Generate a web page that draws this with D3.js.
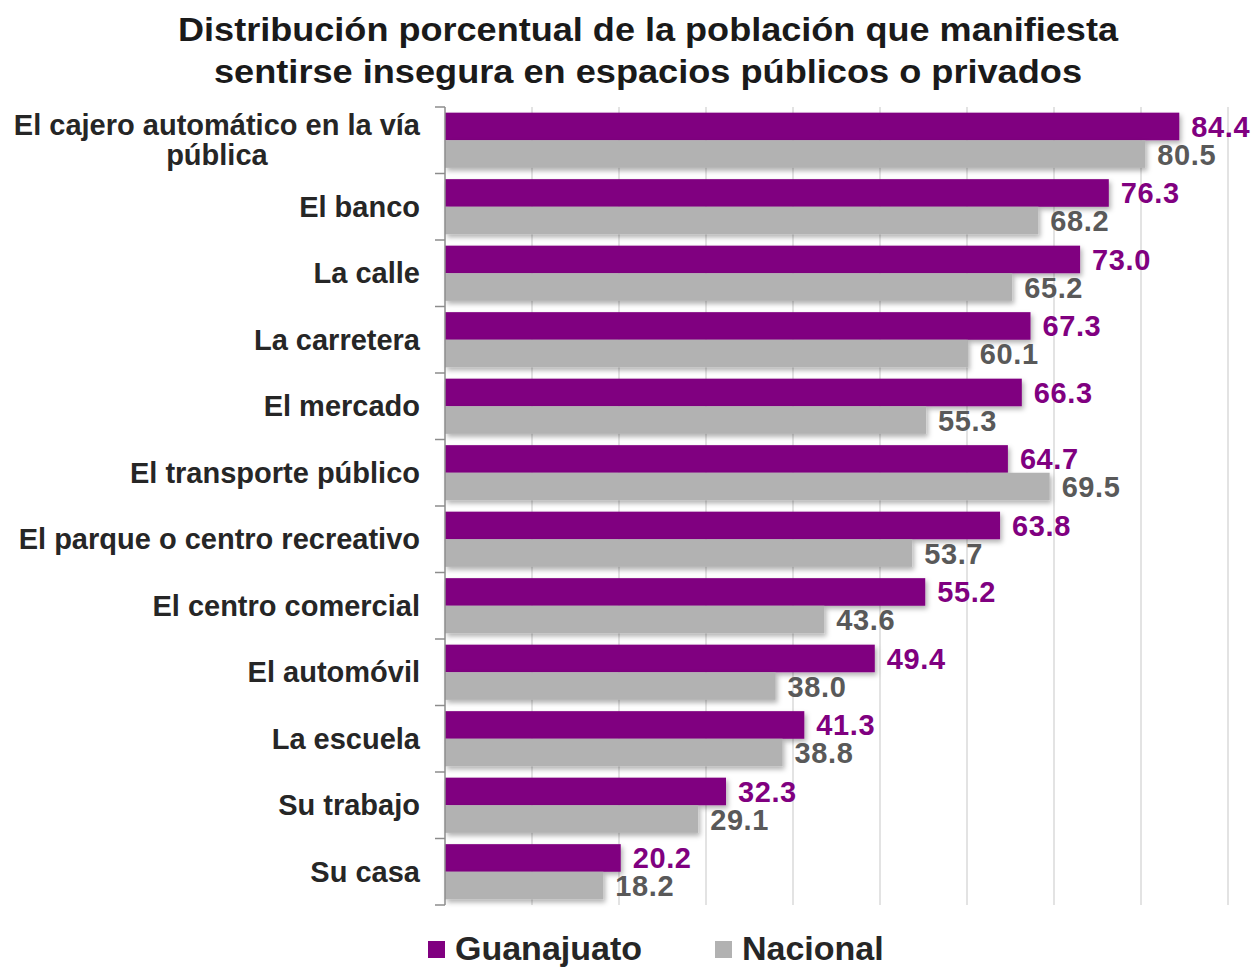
<!DOCTYPE html>
<html lang="es">
<head>
<meta charset="UTF-8">
<title>Inseguridad en espacios</title>
<script src="https://cdn.jsdelivr.net/npm/d3@7"></script>
<style>
  body { margin: 0; background: #fff; }
  text { font-family: "Liberation Sans", Arial, sans-serif; }
</style>
</head>
<body>
<div id="container"></div>
<script>
const categories = [
  "El cajero automático en la vía\npública",
  "El banco",
  "La calle",
  "La carretera",
  "El mercado",
  "El transporte público",
  "El parque o centro recreativo",
  "El centro comercial",
  "El automóvil",
  "La escuela",
  "Su trabajo",
  "Su casa"
];
const guanajuato = [84.4, 76.3, 73.0, 67.3, 66.3, 64.7, 63.8, 55.2, 49.4, 41.3, 32.3, 20.2];
const nacional   = [80.5, 68.2, 65.2, 60.1, 55.3, 69.5, 53.7, 43.6, 38.0, 38.8, 29.1, 18.2];
const seriesNames = ["Guanajuato", "Nacional"];
const titleLines = [
  "Distribución porcentual de la población que manifiesta",
  "sentirse insegura en espacios públicos o privados"
];

const W = 1254, H = 969;
const margin = {top: 107, right: 26, bottom: 64, left: 445};
const colors = ["#800080", "#b2b2b2"];
const labelColors = ["#800080", "#595959"];

const svg = d3.select("#container").append("svg")
  .attr("width", W).attr("height", H);

// soft shadow under the bars
const defs = svg.append("defs");
defs.append("filter").attr("id", "shadow")
  .attr("x", "-5%").attr("y", "-30%").attr("width", "115%").attr("height", "170%")
  .append("feDropShadow")
  .attr("dx", 2).attr("dy", 3).attr("stdDeviation", 2.5)
  .attr("flood-color", "#000").attr("flood-opacity", 0.3);

const x = d3.scaleLinear().domain([0, 90]).range([margin.left, 1228]);
const y = d3.scaleBand().domain(d3.range(categories.length))
  .range([margin.top, H - margin.bottom]).paddingInner(0.17).paddingOuter(0.085);
const ySub = d3.scaleBand().domain([0, 1]).range([0, y.bandwidth()]);

// title
svg.selectAll("text.title")
  .data(titleLines)
  .enter()
  .append("text")
  .attr("class", "title")
  .attr("x", W / 2 + 21)
  .attr("y", (d, i) => 41 + i * 42)
  .attr("text-anchor", "middle")
  .attr("font-size", 34)
  .attr("font-weight", "bold")
  .attr("fill", "#1a1a1a")
  .attr("textLength", (d, i) => i === 0 ? 940 : 868)
  .attr("lengthAdjust", "spacingAndGlyphs")
  .text(d => d);

// vertical gridlines
svg.append("g")
  .selectAll("line")
  .data(x.ticks(9).filter(d => d > 0))
  .enter()
  .append("line")
  .attr("x1", d => x(d)).attr("x2", d => x(d))
  .attr("y1", margin.top).attr("y2", H - margin.bottom)
  .attr("stroke", "#d4d4d4").attr("stroke-width", 1.3);

// bars
const groups = svg.selectAll("g.cat")
  .data(categories)
  .enter()
  .append("g")
  .attr("class", "cat")
  .attr("transform", (d, i) => `translate(0,${y(i)})`);

[guanajuato, nacional].forEach((vals, s) => {
  groups.append("rect")
    .attr("x", x(0))
    .attr("y", ySub(s))
    .attr("width", (d, i) => x(vals[i]) - x(0))
    .attr("height", ySub.bandwidth())
    .attr("fill", colors[s])
    .attr("filter", "url(#shadow)");
});

[guanajuato, nacional].forEach((vals, s) => {
  groups.append("text")
    .attr("x", (d, i) => x(vals[i]) + 12)
    .attr("y", ySub(s) + ySub.bandwidth() / 2 + 10.5)
    .attr("font-size", 29)
    .attr("font-weight", "bold")
    .attr("letter-spacing", 0.6)
    .attr("fill", labelColors[s])
    .text((d, i) => d3.format(".1f")(vals[i]));
});

// y axis with ticks between categories
const axisG = svg.append("g");
axisG.append("line")
  .attr("x1", x(0)).attr("x2", x(0))
  .attr("y1", margin.top).attr("y2", H - margin.bottom)
  .attr("stroke", "#8c8c8c").attr("stroke-width", 1.5);
axisG.selectAll("line.tick")
  .data(d3.range(categories.length + 1))
  .enter()
  .append("line")
  .attr("class", "tick")
  .attr("x1", x(0) - 10).attr("x2", x(0))
  .attr("y1", d => margin.top + d * (H - margin.bottom - margin.top) / categories.length)
  .attr("y2", d => margin.top + d * (H - margin.bottom - margin.top) / categories.length)
  .attr("stroke", "#8c8c8c").attr("stroke-width", 1.5);

// category labels (right aligned block, lines centered within block)
groups.each(function(d, i) {
  const g = d3.select(this);
  const lines = d.split("\n");
  const t = g.append("text")
    .attr("font-size", 29)
    .attr("font-weight", "bold")
    .attr("fill", "#262626");
  const cy = y.bandwidth() / 2;
  const lh = 30;
  const tspans = t.selectAll("tspan")
    .data(lines)
    .enter()
    .append("tspan")
    .attr("y", (l, j) => cy + 10 + (j - (lines.length - 1) / 2) * lh)
    .text(l => l);
  const widths = [];
  tspans.each(function() { widths.push(this.getComputedTextLength()); });
  const maxW = d3.max(widths);
  const right = 420;
  tspans.attr("x", right - maxW / 2)
    .attr("text-anchor", "middle");
});

// legend
const legend = svg.append("g");
const legX = [428, 715];
seriesNames.forEach((name, s) => {
  legend.append("rect")
    .attr("x", legX[s]).attr("y", 941)
    .attr("width", 17).attr("height", 17)
    .attr("fill", colors[s]);
  legend.append("text")
    .attr("x", legX[s] + 27).attr("y", 960)
    .attr("font-size", 34)
    .attr("font-weight", "bold")
    .attr("fill", "#262626")
    .text(name);
});
</script>
</body>
</html>
